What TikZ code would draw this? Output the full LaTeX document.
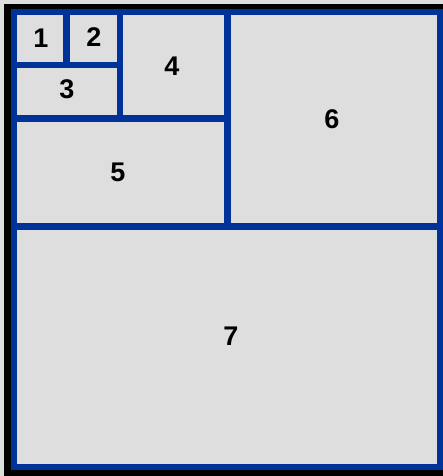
\documentclass[tikz,border=0pt]{standalone}
\usepackage{fontspec}
\setmainfont{Liberation Sans}
\definecolor{frameblue}{RGB}{0,51,153}
\definecolor{cellgray}{RGB}{222,222,222}
\begin{document}
\begin{tikzpicture}[x=1pt,y=-1pt,
  divline/.style={draw=frameblue,line width=6.5pt},
  lbl/.style={font=\fontsize{27}{27}\selectfont\bfseries,text=black,inner sep=0pt}]
\useasboundingbox (0,0) rectangle (443,476);
\fill[cellgray] (0,0) rectangle (443,476);
\fill[black] (4,4) rectangle (443,476);
\fill[cellgray] (11,9) rectangle (443,470);
% dividers
\draw[divline] (66.5,12) -- (66.5,65);
\draw[divline] (14,65) -- (120,65);
\draw[divline] (120,12) -- (120,118.5);
\draw[divline] (14,118.5) -- (227.5,118.5);
\draw[divline] (227.5,12) -- (227.5,226.5);
\draw[divline] (14,226.5) -- (440,226.5);
% outer border
\draw[draw=frameblue,line width=6pt] (14,12) rectangle (440,467);
% labels
\node[lbl] (n1) at (41,38) {1};
\node[lbl] (n2) at (94,37) {2};
\node[lbl] (n3) at (67,89) {3};
\node[lbl] (n4) at (172,66) {4};
\node[lbl] (n5) at (118,172) {5};
\node[lbl] (n6) at (332,119) {6};
\node[lbl] (n7) at (231,336) {7};
\end{tikzpicture}
\end{document}
